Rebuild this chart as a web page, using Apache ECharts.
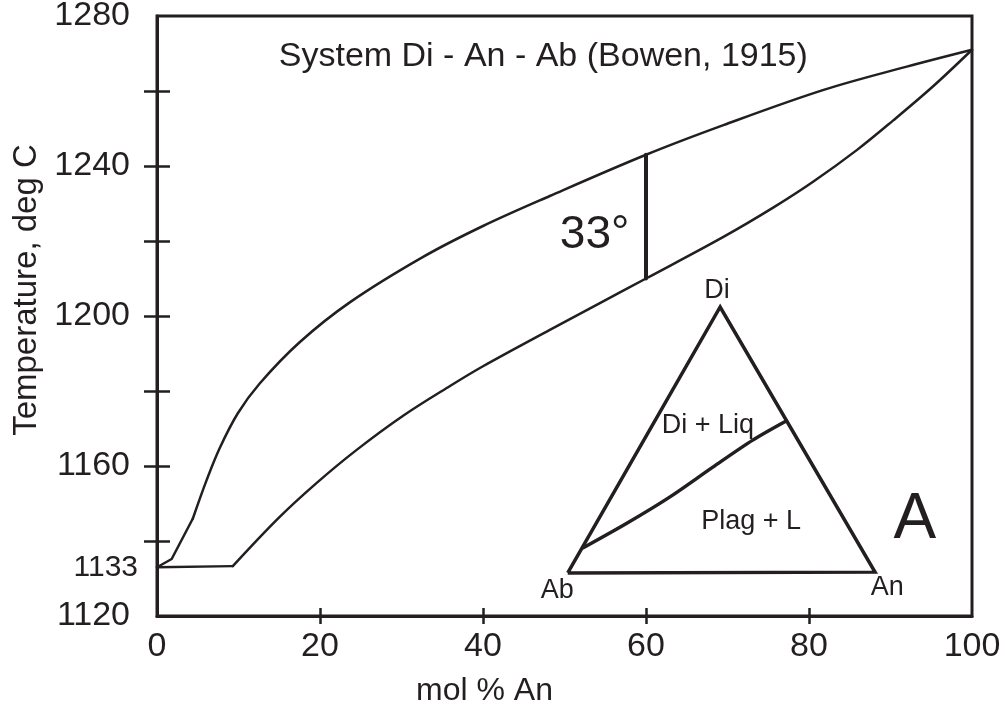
<!DOCTYPE html>
<html>
<head>
<meta charset="utf-8">
<script src="https://cdn.jsdelivr.net/npm/echarts@6/dist/echarts.min.js"></script>
<style>
  html, body { margin: 0; padding: 0; background: #fff; }
  #chart { width: 1005px; height: 713px; }
</style>
</head>
<body>
<div id="chart"></div>
<script>
// Liquidus and solidus of the Di - An - Ab system (mol % An, deg C)
const liquidus = [
  [0, 1133], [1.8, 1135.2], [4.4, 1146], [6.1, 1156.3], [7.7, 1164.8],
  [9.9, 1174], [12.6, 1182], [17.5, 1193], [23.7, 1203.7], [32.6, 1215.7],
  [40, 1224], [48.2, 1232], [60, 1243], [69.5, 1250.9], [81.8, 1260.3],
  [92, 1266.5], [100, 1271]
];
const solidus = [
  [0, 1133], [9.3, 1133.3], [14.9, 1146.1], [19.6, 1155.5], [24.5, 1164.3],
  [30.2, 1173.4], [36, 1181.4], [40, 1186.6], [48.2, 1196.3], [54.4, 1203.5],
  [60, 1210], [69.5, 1221.1], [75.6, 1228.9], [80.5, 1235.8], [85.9, 1244.3],
  [90.3, 1252.1], [95.3, 1261.4], [100, 1271]
];
// Freezing interval at 60 mol % An
const intervalBar = [[60, 1210], [60, 1243]];

// Inset ternary sketch: Ab - Di - An corners and the cotectic
const triangle = [[50.4, 1131.5], [69.1, 1202.4], [88.1, 1131.7], [50.4, 1131.5]];
const cotectic = [[52.3, 1138.2], [57.7, 1144.8], [62.9, 1151.7], [68.2, 1159.7], [73.1, 1166.9], [77.2, 1172.0]];

// Axis ticks and labels
const xTicks = [20, 40, 60, 80];
const xLabels = [0, 20, 40, 60, 80, 100];
const yTicks = [1140, 1160, 1180, 1200, 1220, 1240, 1260];
const yLabels = [1120, 1160, 1200, 1240, 1280];
const eutecticLabel = [1133];

const INK = '#231f20';
const FONT = '"Liberation Sans", Arial, Helvetica, sans-serif';
const plain = v => String(v);

// Text annotations anchored in data coordinates
const notes = [
  { text: 'System Di - An - Ab (Bowen, 1915)', at: [47.4, 1269.3], size: 34 },
  { text: '33°', at: [53.7, 1221.6], size: 46 },
  { text: 'A', at: [93.0, 1145.6], size: 64 },
  { text: 'Di', at: [68.7, 1206.7], size: 27 },
  { text: 'Ab', at: [49.1, 1126.9], size: 27 },
  { text: 'An', at: [89.6, 1127.7], size: 27 },
  { text: 'Di + Liq', at: [67.6, 1170.7], size: 27 },
  { text: 'Plag + L', at: [72.9, 1145.3], size: 27 }
];

const chart = echarts.init(document.getElementById('chart'), null, { renderer: 'canvas' });

const lineSeries = (data, width, smooth) => ({
  type: 'line',
  data: data,
  symbol: 'none',
  smooth: smooth,
  silent: true,
  animation: false,
  lineStyle: { color: INK, width: width, join: 'round', cap: 'round' },
  z: 3
});

const baseX = {
  type: 'value', min: 0, max: 100, interval: 20, position: 'bottom', offset: 0,
  splitLine: { show: false }
};
const baseY = {
  type: 'value', min: 1120, max: 1280, interval: 20, position: 'left', offset: 0,
  splitLine: { show: false }
};

chart.setOption({
  animation: false,
  backgroundColor: '#fff',
  textStyle: { fontFamily: FONT },
  grid: {
    left: 157, top: 16, right: 33, bottom: 97,
    containLabel: false, outerBoundsMode: 'none',
    show: true, borderColor: INK, borderWidth: 3, backgroundColor: 'transparent'
  },
  xAxis: [
    Object.assign({}, baseX, {
      name: 'mol % An', nameLocation: 'middle', nameGap: 59,
      nameTextStyle: { fontSize: 32, color: INK, fontFamily: FONT, padding: [0, 160, 0, 0] },
      axisLine: { lineStyle: { color: INK, width: 3 } },
      axisTick: { show: true, inside: false, length: 8, customValues: xTicks, lineStyle: { color: INK, width: 2.5 } },
      axisLabel: { show: true, customValues: xLabels, formatter: plain, fontSize: 34, color: INK, margin: 14, fontFamily: FONT }
    }),
    Object.assign({}, baseX, {
      axisLine: { show: false },
      axisTick: { show: true, inside: true, length: 8, customValues: xTicks, lineStyle: { color: INK, width: 2.5 } },
      axisLabel: { show: false }
    })
  ],
  yAxis: [
    Object.assign({}, baseY, {
      name: 'Temperature, deg C', nameLocation: 'middle', nameGap: 114,
      nameTextStyle: { fontSize: 33, color: INK, fontFamily: FONT, padding: [0, 0, 0, 52] },
      axisLine: { show: true, lineStyle: { color: INK, width: 3 } },
      axisTick: { show: true, inside: false, length: 13, customValues: yTicks, lineStyle: { color: INK, width: 2.5 } },
      axisLabel: { show: true, customValues: yLabels, formatter: plain, fontSize: 34, color: INK, margin: 27, fontFamily: FONT }
    }),
    Object.assign({}, baseY, {
      axisLine: { show: false },
      axisTick: { show: true, inside: true, length: 13, customValues: yTicks, lineStyle: { color: INK, width: 2.5 } },
      axisLabel: { show: false }
    }),
    Object.assign({}, baseY, {
      axisLine: { show: false },
      axisTick: { show: false },
      axisLabel: { show: true, customValues: eutecticLabel, formatter: plain, fontSize: 30, color: INK, margin: 19, fontFamily: FONT }
    })
  ],
  series: [
    // liquidus: short straight kinks near the eutectic, smooth above
    lineSeries(liquidus.slice(0, 3), 2.5, false),
    lineSeries(liquidus.slice(2), 2.5, 0.35),
    // solidus: flat eutectic segment, then a smooth rise
    lineSeries(solidus.slice(0, 2), 2.5, false),
    lineSeries(solidus.slice(1), 2.5, 0.35),
    lineSeries(intervalBar, 4, false),
    Object.assign(lineSeries(triangle, 3.5, false), { lineStyle: { color: INK, width: 3.5, join: 'miter', cap: 'butt' } }),
    lineSeries(cotectic, 3.5, 0.3),
    {
      type: 'scatter',
      silent: true,
      animation: false,
      symbolSize: 0,
      itemStyle: { color: INK, opacity: 1 },
      z: 5,
      data: notes.map(n => ({
        value: n.at,
        label: {
          show: true,
          position: 'inside',
          formatter: n.text,
          fontSize: n.size,
          color: INK,
          opacity: 1,
          textBorderWidth: 0,
          textBorderColor: 'transparent',
          fontFamily: FONT,
          align: 'center',
          verticalAlign: 'middle'
        }
      }))
    }
  ]
});
</script>
</body>
</html>
